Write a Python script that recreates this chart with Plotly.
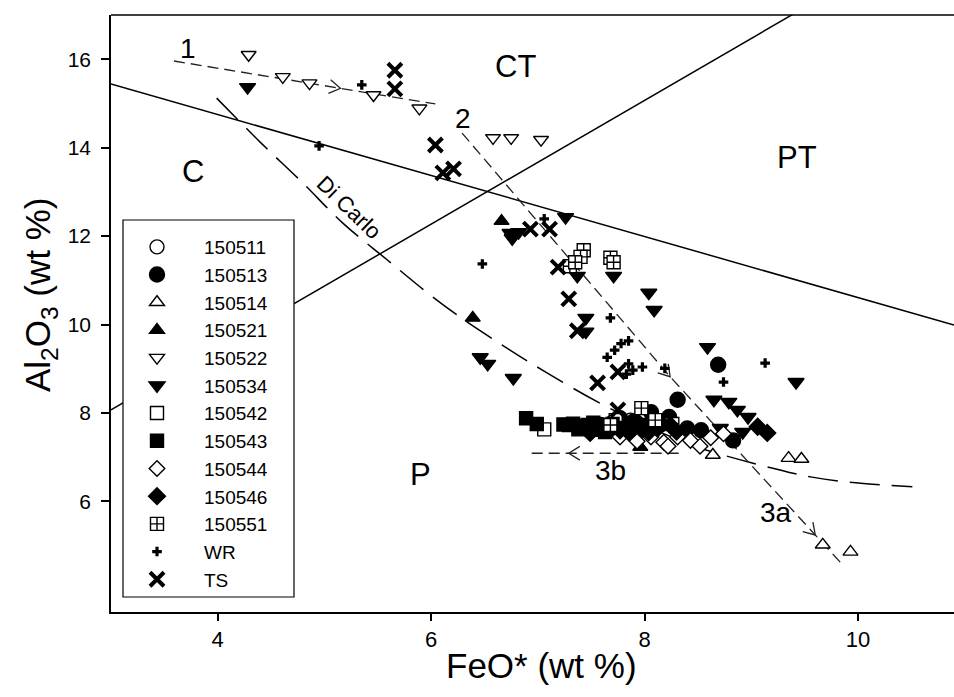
import numpy as np
import plotly.graph_objects as go

# ---------------- axes ----------------
X_RANGE = [3.0, 10.9]
Y_RANGE = [3.5, 17.0]
x_tickvals = [4, 6, 8, 10]
y_tickvals = [6, 8, 10, 12, 14, 16]

# ---------------- point series ----------------
s150511_x = [7.87, 8.01, 8.15]
s150511_y = [7.84, 7.88, 7.73]
s150513_x = [8.69, 8.31, 8.23, 8.53, 8.83, 8.06, 7.77, 7.59, 7.70, 7.90, 8.10, 8.40]
s150513_y = [9.09, 8.30, 7.91, 7.61, 7.38, 8.02, 7.88, 7.73, 7.78, 7.81, 7.78, 7.65]
s150514_x = [8.64, 9.35, 9.47, 9.67, 9.93]
s150514_y = [7.05, 6.98, 6.96, 5.02, 4.86]
s150521_x = [6.66, 6.39, 7.96]
s150521_y = [12.34, 10.15, 7.23]
s150522_x = [4.29, 4.61, 4.86, 5.46, 5.89, 6.58, 6.75, 7.03]
s150522_y = [16.10, 15.60, 15.46, 15.19, 14.89, 14.22, 14.22, 14.18]
s150534_x = [4.28, 7.26, 6.74, 6.82, 6.76, 7.37, 7.71, 8.04, 8.09, 7.45, 7.45, 8.59,
             9.42, 6.46, 6.53, 6.77, 8.65, 8.79, 8.87, 8.97, 8.71, 8.92]
s150534_y = [15.37, 12.43, 12.07, 12.09, 11.95, 11.10, 11.10, 10.72, 10.33, 10.15, 9.84, 9.49,
             8.70, 9.26, 9.11, 8.79, 8.30, 8.25, 8.07, 7.91, 7.66, 7.57]
s150542_x = [7.06, 8.26, 7.73]
s150542_y = [7.63, 7.75, 7.84]
s150543_x = [6.89, 6.99, 7.29, 7.38, 7.47, 7.59, 7.70, 7.82, 7.96, 7.63,
             7.24, 7.33, 7.42, 7.52, 7.55, 7.66, 7.75, 7.88, 7.92, 8.02]
s150543_y = [7.88, 7.75, 7.73, 7.63, 7.73, 7.66, 7.75, 7.66, 7.73, 7.57,
             7.74, 7.76, 7.71, 7.78, 7.62, 7.69, 7.60, 7.71, 7.60, 7.69]
s150544_x = [7.77, 7.93, 8.06, 8.18, 8.31, 8.43, 8.52, 8.62, 8.74, 8.22]
s150544_y = [7.46, 7.36, 7.46, 7.34, 7.46, 7.38, 7.25, 7.44, 7.53, 7.25]
s150546_x = [9.06, 9.15, 7.77, 8.04, 7.49, 8.24, 7.60, 7.85, 7.95, 8.12, 8.30]
s150546_y = [7.69, 7.55, 7.61, 7.57, 7.55, 7.73, 7.65, 7.57, 7.76, 7.65, 7.58]
s150551_x = [7.43, 7.40, 7.68, 7.71, 7.30, 7.35, 7.97, 7.68, 8.10]
s150551_y = [11.68, 11.53, 11.51, 11.41, 11.32, 11.41, 8.11, 7.73, 7.84]
wr_x = [5.35, 4.95, 6.48, 7.06, 7.68, 7.65, 7.72, 7.78, 7.85, 7.85, 7.89, 7.98, 7.83, 8.19, 8.74, 9.13]
wr_y = [15.42, 14.04, 11.37, 12.39, 10.15, 9.26, 9.42, 9.57, 9.63, 9.11, 8.97, 9.04, 8.88, 9.01, 8.70, 9.13]
ts_x = [5.66, 5.66, 6.04, 6.11, 6.21, 6.93, 7.11, 7.19, 7.29, 7.37, 7.75, 7.56, 7.75]
ts_y = [15.75, 15.33, 14.06, 13.43, 13.52, 12.16, 12.16, 11.30, 10.58, 9.86, 8.93, 8.68, 8.07]

# ---------------- lines ----------------
lineA_x = [3.0, 10.9]
lineA_y = [15.44, 9.99]
lineB_x = [3.0, 9.4]
lineB_y = [8.07, 17.03]
line1_x = [3.59, 6.04]
line1_y = [15.96, 14.99]
line2_x = [6.29, 8.24, 9.84]
line2_y = [14.33, 8.82, 4.61]
line3b_x = [8.32, 6.91]
line3b_y = [7.09, 7.09]
dicarlo_x = [3.99, 4.40, 4.79, 5.17, 5.59, 5.99, 6.27, 6.67, 7.07, 7.56, 8.05, 8.52, 8.90, 9.27, 9.57, 9.98, 10.51]
dicarlo_y = [15.12, 14.12, 13.22, 12.30, 11.46, 10.67, 10.17, 9.53, 8.93, 8.25, 7.67, 7.21, 6.94, 6.71, 6.55, 6.42, 6.33]

# arrowheads (which line, x of tip)
arrow_line = ["1", "2", "2", "3b"]
arrow_tip_x = [5.15, 8.24, 9.60, 7.29]

# text labels
region_labels = ["CT", "PT", "C", "P"]
region_x = [6.79, 9.43, 3.77, 5.90]
region_y = [15.83, 13.77, 13.45, 6.60]
path_labels = ["1", "2", "3a", "3b"]
path_x = [3.72, 6.30, 9.23, 7.68]
path_y = [16.25, 14.67, 5.76, 6.71]

FONT = "Liberation Sans"
BLACK = "black"

series = [
    ("150511", s150511_x, s150511_y, "circle", 14, "white"),
    ("150513", s150513_x, s150513_y, "circle", 15, BLACK),
    ("150514", s150514_x, s150514_y, "triangle-up", 13, "white"),
    ("150521", s150521_x, s150521_y, "triangle-up", 13, BLACK),
    ("150522", s150522_x, s150522_y, "triangle-down", 13, "white"),
    ("150534", s150534_x, s150534_y, "triangle-down", 14, BLACK),
    ("150542", s150542_x, s150542_y, "square", 13, "white"),
    ("150543", s150543_x, s150543_y, "square", 13, BLACK),
    ("150544", s150544_x, s150544_y, "diamond", 12, "white"),
    ("150546", s150546_x, s150546_y, "diamond", 13, BLACK),
    ("150551", s150551_x, s150551_y, "square-cross", 13, "white"),
]

fig = go.Figure()

# boundary lines
for lx, ly in [(lineA_x, lineA_y), (lineB_x, lineB_y)]:
    fig.add_trace(go.Scatter(x=lx, y=ly, mode="lines", line=dict(color=BLACK, width=1.5),
                             showlegend=False, hoverinfo="skip"))
fig.add_trace(go.Scatter(x=dicarlo_x, y=dicarlo_y, mode="lines", line_shape="spline",
                         line=dict(color=BLACK, width=1.5, dash="30px,12px"),
                         showlegend=False, hoverinfo="skip"))
paths = {"1": (line1_x, line1_y), "2": (line2_x, line2_y), "3b": (line3b_x, line3b_y)}
for key, (lx, ly) in paths.items():
    fig.add_trace(go.Scatter(x=lx, y=ly, mode="lines",
                             line=dict(color="#222", width=1.3, dash="11px,6px"),
                             showlegend=False, hoverinfo="skip"))

# open chevron arrowheads computed from the line direction
kx = 843.0 / (X_RANGE[1] - X_RANGE[0])
ky = 597.0 / (Y_RANGE[1] - Y_RANGE[0])
L, th = 13.0, np.radians(32)
for key, tx in zip(arrow_line, arrow_tip_x):
    lx, ly = np.array(paths[key][0]), np.array(paths[key][1])
    seg = 0
    for i in range(len(lx) - 1):
        if min(lx[i], lx[i + 1]) <= tx <= max(lx[i], lx[i + 1]):
            seg = i
            break
    t = (tx - lx[seg]) / (lx[seg + 1] - lx[seg])
    ty = ly[seg] + t * (ly[seg + 1] - ly[seg])
    ux, uy = (lx[seg + 1] - lx[seg]) * kx, (ly[seg + 1] - ly[seg]) * ky
    n = np.hypot(ux, uy)
    bx, by = -ux / n, -uy / n
    xs, ys = [], []
    for s in (th, -th):
        ax = bx * np.cos(s) - by * np.sin(s)
        ay = bx * np.sin(s) + by * np.cos(s)
        xs.append(tx + L * ax / kx)
        ys.append(ty + L * ay / ky)
    fig.add_trace(go.Scatter(x=[xs[0], tx, xs[1]], y=[ys[0], ty, ys[1]], mode="lines",
                             line=dict(color="#222", width=1.3), showlegend=False, hoverinfo="skip"))

# point series
for name, sx, sy, sym, size, fill in series:
    fig.add_trace(go.Scatter(x=sx, y=sy, mode="markers", name=name,
                             marker=dict(symbol=sym, size=size, color=fill,
                                         line=dict(color=BLACK, width=1.4))))
fig.add_trace(go.Scatter(x=wr_x, y=wr_y, mode="markers", name="WR",
                         marker=dict(symbol="cross", size=8, color=BLACK, line=dict(width=0))))
fig.add_trace(go.Scatter(x=ts_x, y=ts_y, mode="markers", name="TS",
                         marker=dict(symbol="x-thin", size=14, color=BLACK,
                                     line=dict(color=BLACK, width=4))))

annotations = []
for t, x, y in zip(region_labels, region_x, region_y):
    annotations.append(dict(x=x, y=y, xref="x", yref="y", text=t, showarrow=False,
                            font=dict(family=FONT, size=31, color=BLACK)))
for t, x, y in zip(path_labels, path_x, path_y):
    annotations.append(dict(x=x, y=y, xref="x", yref="y", text=t, showarrow=False,
                            font=dict(family=FONT, size=28, color=BLACK)))
annotations.append(dict(x=5.23, y=12.64, xref="x", yref="y", text="Di Carlo", showarrow=False,
                        textangle=44, font=dict(family=FONT, size=22, color=BLACK)))
annotations.append(dict(x=7.03, y=-0.089, xref="x", yref="paper", text="FeO* (wt %)",
                        showarrow=False, xanchor="center", yanchor="middle",
                        font=dict(family=FONT, size=35, color=BLACK)))
annotations.append(dict(x=-0.084, y=10.67, xref="paper", yref="y",
                        text="Al<sub>2</sub>O<sub>3</sub> (wt %)", showarrow=False,
                        xanchor="center", yanchor="middle",
                        textangle=-90, font=dict(family=FONT, size=35, color=BLACK)))

W, H = 954, 697
ml, mt, mb = 111, 15, 85
pw, ph = W - ml, H - mt - mb
def px2paper_x(p):
    return (p - ml) / pw
def py2paper_y(p):
    return (H - mb - p) / ph

shapes = [
    dict(type="line", xref="paper", yref="paper", x0=0, x1=1, y0=1, y1=1,
         line=dict(color=BLACK, width=1.5)),
    dict(type="rect", xref="paper", yref="paper", layer="above",
         x0=px2paper_x(123), x1=px2paper_x(294), y0=py2paper_y(597), y1=py2paper_y(220),
         fillcolor="white", line=dict(color=BLACK, width=1.2)),
]

fig.update_layout(
    width=W, height=H,
    margin=dict(l=ml, r=0, t=mt, b=mb),
    plot_bgcolor="white", paper_bgcolor="white",
    font=dict(family=FONT, color=BLACK),
    showlegend=True,
    legend=dict(x=px2paper_x(110), y=py2paper_y(228), xanchor="left", yanchor="top",
                bgcolor="rgba(0,0,0,0)", borderwidth=0, itemwidth=84,
                font=dict(family=FONT, size=19, color=BLACK), tracegroupgap=0),
    annotations=annotations,
    shapes=shapes,
    xaxis=dict(range=X_RANGE, tickmode="array", tickvals=x_tickvals,
               ticks="outside", ticklen=7, tickwidth=1.5, tickcolor=BLACK,
               showline=True, linewidth=1.5, linecolor=BLACK, mirror=False,
               showgrid=False, zeroline=False,
               tickfont=dict(family=FONT, size=22, color=BLACK)),
    yaxis=dict(range=Y_RANGE, tickmode="array", tickvals=y_tickvals,
               ticks="outside", ticklen=8, tickwidth=1.5, tickcolor=BLACK,
               showline=True, linewidth=1.5, linecolor=BLACK, mirror=False,
               showgrid=False, zeroline=False, ticklabelstandoff=6,
               tickfont=dict(family=FONT, size=21, color=BLACK)),
)

fig.write_html("out.html")
